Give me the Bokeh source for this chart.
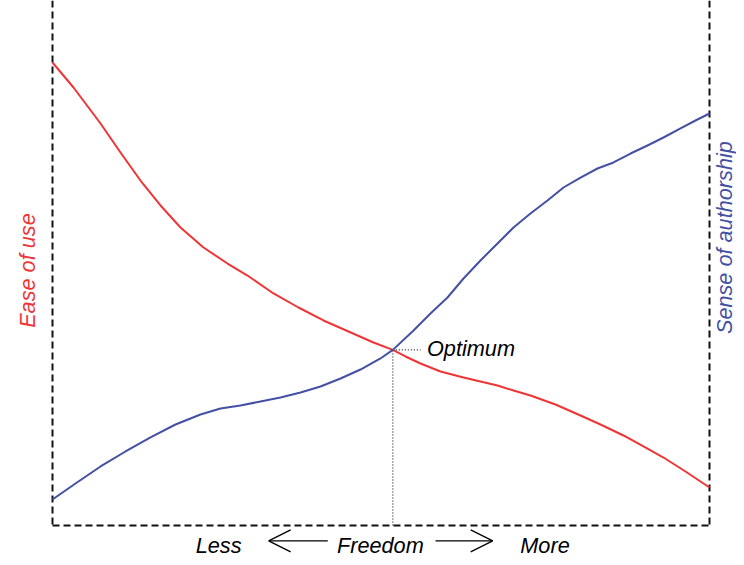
import math
from bokeh.plotting import figure
from bokeh.models import Range1d, Label, Arrow, OpenHead
from bokeh.embed import file_html
from bokeh.resources import INLINE

# Freedom (0 = less, 100 = more) and the two qualities (0..100)
ease_x = [0, 3.20, 7.31, 10.35, 13.39, 16.44, 19.48, 22.98, 26.64, 29.68, 33.64, 37.44, 41.25,
          45.05, 48.86, 51.8, 53.73, 56.01, 59.06, 62.56, 65.14, 67.73, 70.17, 72.75, 76.56,
          80.37, 83.41, 86.91, 89.95, 93.00, 96.35, 100]
ease_y = [89.90, 85.05, 78.06, 72.43, 66.99, 62.14, 57.86, 53.98, 50.87, 48.54, 45.05, 42.33, 39.81,
          37.67, 35.53, 34.1, 32.82, 31.46, 29.90, 28.74, 27.96, 27.18, 26.21, 25.24, 23.50,
          21.36, 19.61, 17.48, 15.34, 13.20, 10.49, 7.38]

auth_x = [0, 3.50, 7.31, 11.11, 14.92, 18.72, 22.53, 25.57, 28.61, 31.66, 34.70, 37.75, 40.79,
          43.84, 46.88, 49.92, 51.8, 54.95, 57.53, 60.12, 62.56, 65.14, 67.73, 70.17, 72.75,
          75.34, 77.78, 80.37, 82.95, 85.39, 87.98, 90.56, 93.00, 95.59, 97.87, 100]
auth_y = [5.05, 8.16, 11.46, 14.37, 17.09, 19.61, 21.55, 22.72, 23.30, 24.08, 24.85, 25.83, 26.99,
          28.54, 30.29, 32.43, 34.1, 37.86, 41.17, 44.27, 47.96, 51.46, 54.76, 57.86, 60.58,
          63.11, 65.63, 67.57, 69.32, 70.49, 72.23, 73.79, 75.34, 77.09, 78.64, 80.00]

optimum_x = 51.8
optimum_y = 34.1

left_label = "Ease of use"
right_label = "Sense of authorship"
optimum_label = "Optimum"
less_label = "Less"
axis_label = "Freedom"
more_label = "More"

RED = "#ee3535"
BLUE = "#4350a3"
FONT = "Liberation Sans"

W, H = 736, 557
# plot box occupies pixels 52..709 horizontally and 10..525 vertically
PX = 657 / 100.0
PY = 515 / 100.0
x0 = -52 / PX
x1 = 100 + (W - 709) / PX
y0 = -(H - 525) / PY
y1 = 100 + 10 / PY

p = figure(width=W, height=H, x_range=Range1d(x0, x1), y_range=Range1d(y0, y1),
           output_backend="svg", toolbar_location=None,
           min_border_left=0, min_border_right=0, min_border_top=0, min_border_bottom=0)
p.xaxis.visible = False
p.yaxis.visible = False
p.xgrid.visible = False
p.ygrid.visible = False
p.outline_line_color = None
p.background_fill_color = "white"
p.border_fill_color = "white"

# dashed frame lines
dash = dict(line_color="#111111", line_width=2, line_dash="7 4")
p.line([0, 0], [y1, 0], **dash)
p.line([100, 100], [y1, 0], **dash)
p.line([0, 100], [0, 0], **dash)

# optimum guides
p.line([optimum_x, optimum_x], [0, optimum_y], line_color="#222222", line_width=1.2, line_dash="1 2")
p.line([optimum_x, 56.0], [optimum_y, optimum_y], line_color="#222222", line_width=1.2, line_dash="1 2")

# curves
p.line(ease_x, ease_y, line_color=RED, line_width=2, line_join="round")
p.line(auth_x, auth_y, line_color=BLUE, line_width=2, line_join="round")

fs = "21.7px"
p.add_layout(Label(x=57.0, y=34.4, text=optimum_label, text_font=FONT, text_font_style="italic",
                   text_font_size=fs, text_color="black", text_baseline="alphabetic", text_align="left"))

p.add_layout(Label(x=-3.8, y=49.5, text=left_label, angle=math.pi / 2, text_font=FONT,
                   text_font_style="italic", text_font_size=fs, text_color=RED,
                   text_align="center", text_baseline="alphabetic"))
p.add_layout(Label(x=102.3, y=55.9, text=right_label, angle=math.pi / 2, text_font=FONT,
                   text_font_style="italic", text_font_size=fs, text_color=BLUE,
                   text_align="center", text_baseline="alphabetic"))

base_y = -3.79
p.add_layout(Label(x=21.8, y=base_y, text=less_label, text_font=FONT, text_font_style="italic",
                   text_font_size=fs, text_color="black", text_align="left", text_baseline="alphabetic"))
p.add_layout(Label(x=49.9, y=base_y, text=axis_label, text_font=FONT, text_font_style="italic",
                   text_font_size=fs, text_color="black", text_align="center", text_baseline="alphabetic"))
p.add_layout(Label(x=71.2, y=base_y, text=more_label, text_font=FONT, text_font_style="italic",
                   text_font_size=fs, text_color="black", text_align="left", text_baseline="alphabetic"))

arrow_y = -3.0
p.add_layout(Arrow(x_start=41.9, y_start=arrow_y, x_end=32.9, y_end=arrow_y, line_width=1.3,
                   line_color="black", end=OpenHead(size=22, line_width=1.3, line_color="black")))
p.add_layout(Arrow(x_start=58.3, y_start=arrow_y, x_end=67.0, y_end=arrow_y, line_width=1.3,
                   line_color="black", end=OpenHead(size=22, line_width=1.3, line_color="black")))

open("out.html", "w").write(file_html(p, INLINE))
